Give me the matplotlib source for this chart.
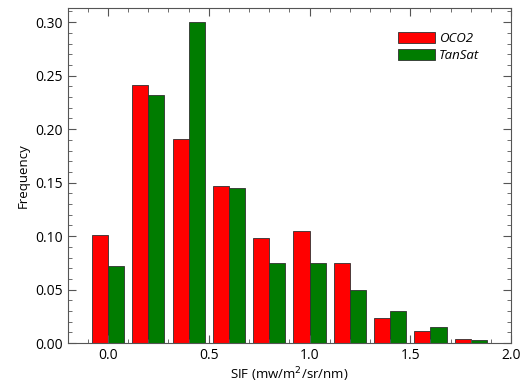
import numpy as np
import matplotlib.pyplot as plt
from matplotlib.ticker import MultipleLocator

plt.rcParams['font.family'] = ['Open Sans', 'DejaVu Sans']

sif_bins = [0.0, 0.2, 0.4, 0.6, 0.8, 1.0, 1.2, 1.4, 1.6, 1.8]
oco2 = [0.101, 0.241, 0.191, 0.147, 0.098, 0.105, 0.075, 0.024, 0.011, 0.004]
tansat = [0.072, 0.232, 0.300, 0.145, 0.075, 0.075, 0.050, 0.030, 0.015, 0.003]

fig = plt.figure(figsize=(5.21, 3.9), dpi=100)
ax = fig.add_axes([0.13, 0.12, 0.851, 0.859])

x = np.array(sif_bins)
w = 0.08
ax.bar(x - w / 2, oco2, width=w, color='#ff0000', edgecolor='#303030',
       linewidth=0.6, label='OCO2')
ax.bar(x + w / 2, tansat, width=w, color='#007c00', edgecolor='#303030',
       linewidth=0.6, label='TanSat')

ax.set_xlim(-0.2, 2.0)
ax.set_ylim(0, 0.313)
ax.xaxis.set_major_locator(MultipleLocator(0.5))
ax.xaxis.set_minor_locator(MultipleLocator(0.1))
ax.yaxis.set_major_locator(MultipleLocator(0.05))
ax.yaxis.set_minor_locator(MultipleLocator(0.01))
ax.xaxis.set_major_formatter(plt.FormatStrFormatter('%.1f'))
ax.yaxis.set_major_formatter(plt.FormatStrFormatter('%.2f'))
ax.tick_params(which='both', direction='in', top=True, right=True,
               labelsize=10, color='#555555')
ax.tick_params(which='major', length=6)
ax.tick_params(which='minor', length=3)
for s in ax.spines.values():
    s.set_color('#555555')

ax.set_xlabel('SIF (mw/m$^2$/sr/nm)', fontsize=9.5, labelpad=2)
ax.set_ylabel('Frequency', fontsize=9.5, labelpad=4)

leg = ax.legend(loc='upper right', bbox_to_anchor=(0.955, 0.965), frameon=False,
                prop={'style': 'italic', 'size': 9.5}, handlelength=2.8,
                handleheight=0.9, labelspacing=0.3, handletextpad=0.3)

fig.savefig('out.png', dpi=100)
